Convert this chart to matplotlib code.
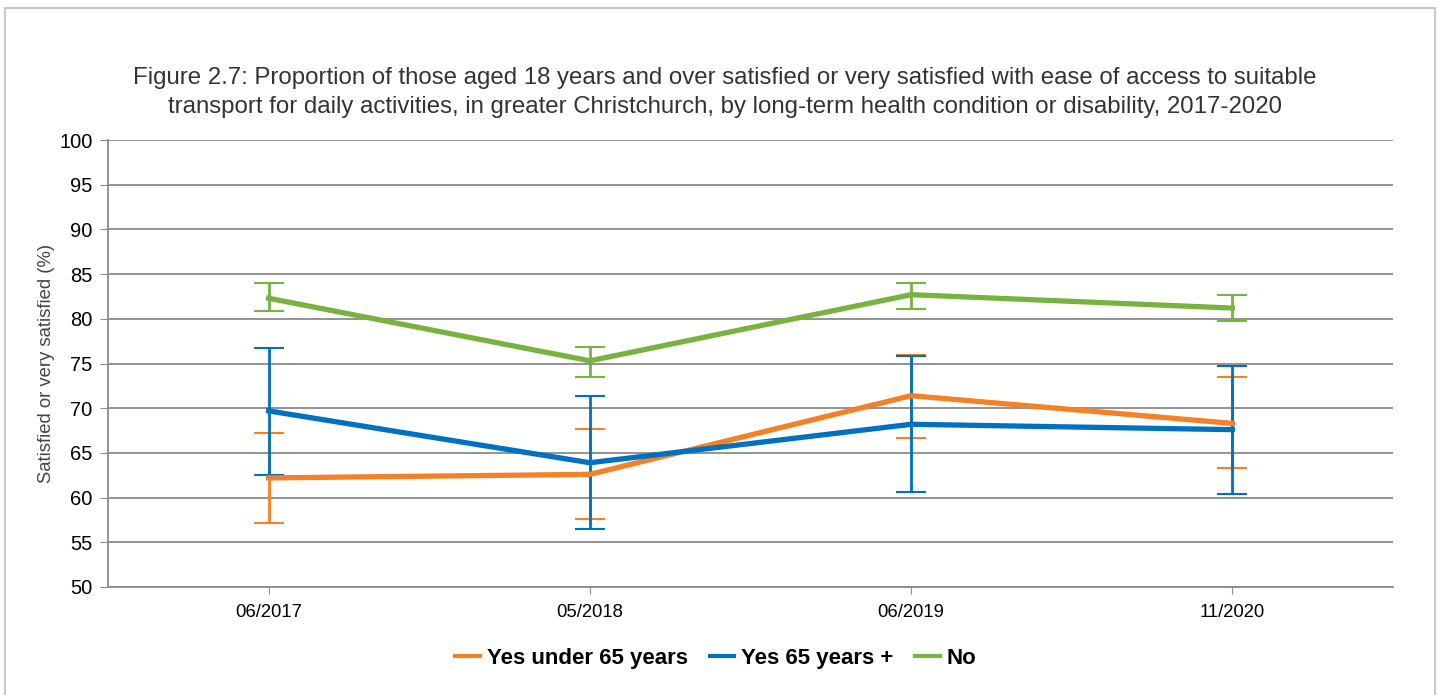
import matplotlib.pyplot as plt
from matplotlib.patches import Rectangle
from matplotlib.lines import Line2D

plt.rcParams['font.family'] = ['Liberation Sans', 'DejaVu Sans']

dates = ['06/2017', '05/2018', '06/2019', '11/2020']
series = ['Yes under 65 years', 'Yes 65 years +', 'No']
under65 = [62.2, 62.6, 71.4, 68.3]
under65_lo = [57.2, 57.6, 66.7, 63.3]
under65_hi = [67.2, 67.7, 76.0, 73.5]
over65 = [69.7, 63.9, 68.2, 67.6]
over65_lo = [62.5, 56.5, 60.6, 60.4]
over65_hi = [76.7, 71.4, 75.8, 74.7]
no = [82.3, 75.3, 82.7, 81.2]
no_lo = [80.9, 73.5, 81.1, 79.8]
no_hi = [84.0, 76.8, 84.0, 82.7]
colors = ['#F58025', '#0070C0', '#77B33F']

fig = plt.figure(figsize=(14.41, 6.95), dpi=100)
fig.patches.append(Rectangle((5 / 1441, -0.01), 1430 / 1441, 1 - 8 / 695 + 0.01,
                             transform=fig.transFigure, fill=False,
                             edgecolor='#c8c8c8', linewidth=1.5))
ax = fig.add_axes([108 / 1441, 1 - 587 / 695, 1285 / 1441, 447 / 695])

x = [i + 0.5 for i in range(len(dates))]
data = [(under65, under65_lo, under65_hi), (over65, over65_lo, over65_hi), (no, no_lo, no_hi)]
for (v, lo, hi), c in zip(data, colors):
    err = [[a - b for a, b in zip(v, lo)], [b - a for a, b in zip(v, hi)]]
    ax.errorbar(x, v, yerr=err, color=c, lw=3.8, elinewidth=2, capsize=11,
                capthick=1.5, zorder=3)

ax.set_xlim(0, 4)
ax.set_ylim(50, 100)
ax.set_yticks(range(50, 101, 5))
ax.set_xticks(x)
ax.set_xticklabels(dates, fontsize=13.3)
ax.tick_params(axis='y', labelsize=14.5, length=6, color='#8a8a8a', pad=5)
ax.tick_params(axis='x', length=5, color='#8a8a8a', pad=7)
ax.yaxis.grid(True, color='#8a8a8a', linewidth=1.3)
ax.set_axisbelow(True)
for s in ['top', 'right']:
    ax.spines[s].set_visible(False)
for s in ['left', 'bottom']:
    ax.spines[s].set_color('#8a8a8a')
    ax.spines[s].set_linewidth(1.3)
ax.set_ylabel('Satisfied or very satisfied (%)', fontsize=13.3, labelpad=3, color='#444444')

fig.text(0.503, 0.867, 'Figure 2.7: Proportion of those aged 18 years and over satisfied or very satisfied with ease of access to suitable\n'
         'transport for daily activities, in greater Christchurch, by long-term health condition or disability, 2017-2020',
         ha='center', va='center', fontsize=17.3, color='#333333', linespacing=1.4)

handles = [Line2D([], [], color=c, lw=3) for c in colors]
ax.legend(handles, series, loc='center', bbox_to_anchor=(0.473, -0.16), ncol=3, frameon=False,
          prop={'weight': 'bold', 'size': 16}, handlelength=1.1,
          handletextpad=0.3, columnspacing=1.0)

fig.savefig('out.png', dpi=100)
